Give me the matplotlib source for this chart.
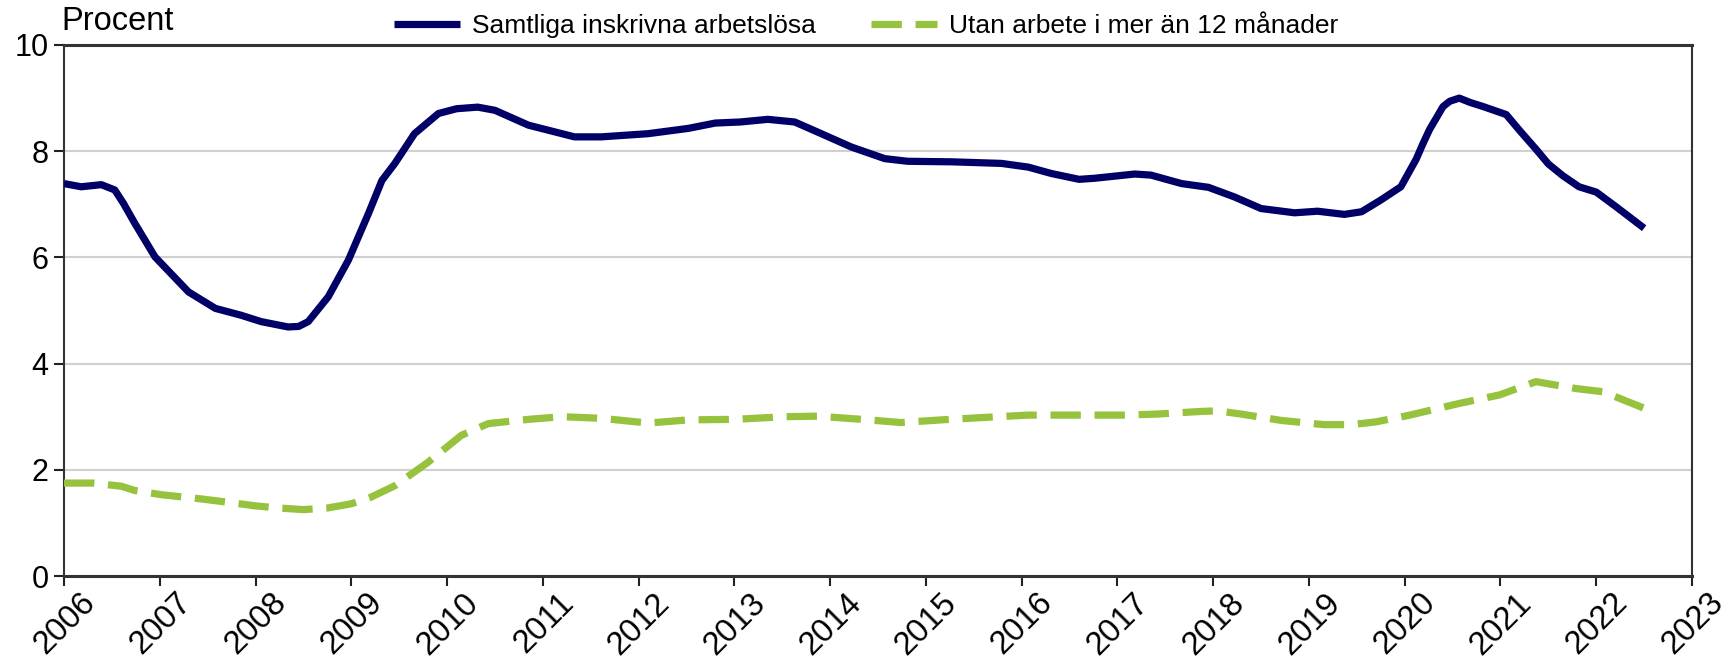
import matplotlib
matplotlib.use("Agg")
import matplotlib.pyplot as plt
from matplotlib.transforms import ScaledTranslation

plt.rcParams['font.family'] = ['Liberation Sans', 'DejaVu Sans']

# Samtliga inskrivna arbetslösa
years_all = [2006.0, 2006.18, 2006.39, 2006.53, 2006.62, 2006.74, 2006.95, 2007.30, 2007.58,
             2007.85, 2008.06, 2008.34, 2008.45, 2008.55, 2008.76, 2008.97, 2009.18, 2009.32,
             2009.455, 2009.66, 2009.91, 2010.1, 2010.32, 2010.5, 2010.85, 2011.33, 2011.61,
             2012.1, 2012.52, 2012.8, 2013.06, 2013.35, 2013.63, 2013.87, 2014.22,
             2014.57, 2014.81, 2015.27, 2015.79, 2016.07, 2016.31, 2016.6, 2016.76,
             2017.18, 2017.35, 2017.67, 2017.95, 2018.22, 2018.5, 2018.85, 2019.09,
             2019.37, 2019.55, 2019.75, 2019.96, 2020.12, 2020.19, 2020.26, 2020.40, 2020.47,
             2020.57, 2020.68, 2020.82, 2021.06, 2021.2, 2021.37, 2021.5, 2021.65, 2021.82,
             2022.0, 2022.21, 2022.5]
vals_all = [7.39, 7.33, 7.37, 7.27, 7.02, 6.64, 6.01, 5.35, 5.04,
            4.91, 4.79, 4.69, 4.70, 4.79, 5.26, 5.95, 6.83, 7.45,
            7.77, 8.33, 8.71, 8.80, 8.83, 8.77, 8.49, 8.27, 8.27,
            8.33, 8.43, 8.53, 8.55, 8.60, 8.55, 8.36, 8.08,
            7.86, 7.81, 7.80, 7.77, 7.70, 7.58, 7.47, 7.49,
            7.57, 7.55, 7.39, 7.32, 7.14, 6.92, 6.84, 6.87,
            6.81, 6.86, 7.08, 7.33, 7.85, 8.14, 8.41, 8.84, 8.94,
            9.00, 8.92, 8.84, 8.69, 8.39, 8.04, 7.76, 7.54, 7.33,
            7.23, 6.95, 6.55]

# Utan arbete i mer än 12 månader
years_long = [2006.0, 2006.3, 2006.6, 2006.74, 2007.02, 2007.44, 2007.75, 2008.0,
              2008.25, 2008.5, 2008.75, 2009.0, 2009.2, 2009.455, 2009.8, 2010.15,
              2010.43, 2010.85, 2011.2, 2011.61, 2012.1, 2012.52, 2013.0, 2013.53,
              2013.87, 2014.33, 2014.74, 2015.16, 2015.65, 2016.07, 2016.6, 2017.07,
              2017.42, 2017.88, 2018.05, 2018.29, 2018.71, 2019.16, 2019.44, 2019.69,
              2020.03, 2020.57, 2020.99, 2021.37, 2021.79, 2022.07, 2022.5]
vals_long = [1.75, 1.75, 1.69, 1.61, 1.53, 1.45, 1.38, 1.32,
             1.28, 1.25, 1.28, 1.36, 1.48, 1.70, 2.14, 2.65,
             2.87, 2.95, 3.00, 2.97, 2.88, 2.94, 2.95, 3.00,
             3.01, 2.95, 2.89, 2.94, 2.99, 3.03, 3.03, 3.03,
             3.05, 3.10, 3.11, 3.05, 2.93, 2.85, 2.85, 2.90,
             3.02, 3.25, 3.41, 3.66, 3.53, 3.47, 3.16]

xticks = list(range(2006, 2024))
yticks = [0, 2, 4, 6, 8, 10]
label_all = "Samtliga inskrivna arbetslösa"
label_long = "Utan arbete i mer än 12 månader"

fig = plt.figure(figsize=(17.32, 6.64), dpi=100)
ax = fig.add_axes([64/1732, 1 - 576/664, (1692-64)/1732, (576-45)/664])

ax.plot(years_all, vals_all, color='#000066', lw=5.2, solid_capstyle='butt',
        solid_joinstyle='round', label=label_all, zorder=3)
ax.plot(years_long, vals_long, color='#96C23D', lw=5.2, dashes=(4.2, 1.9),
        dash_capstyle='butt', label=label_long, zorder=3)

ax.set_xlim(2006, 2023)
ax.set_ylim(0, 10)
ax.set_xticks(xticks)
ax.set_xticklabels([str(t) for t in xticks], rotation=45, ha='right', va='center',
                   rotation_mode='anchor', fontsize=23.5)
ax.set_yticks(yticks)
ax.set_yticklabels([str(t) for t in yticks], fontsize=22)
ax.tick_params(axis='both', direction='out', length=7, width=1.5, color='#222222')
ax.tick_params(axis='x', pad=9)
ax.tick_params(axis='y', pad=4)
offset = ScaledTranslation(19/72, 0, fig.dpi_scale_trans)
for lab in ax.get_xticklabels():
    lab.set_transform(lab.get_transform() + offset)
ax.grid(axis='y', color='#d0d0d0', lw=1.5, zorder=0)
ax.set_axisbelow(True)
for s in ax.spines.values():
    s.set_color('#333333')
    s.set_linewidth(1.5)
ax.spines['bottom'].set_linewidth(2.2)
ax.spines['top'].set_linewidth(2.2)

fig.text(61/1732, 1 - 21/664, 'Procent', fontsize=23.5, ha='left', va='center')
fig.legend(loc='center', bbox_to_anchor=(0.5, 1 - 26/664), ncol=2, frameon=False,
           fontsize=19, handlelength=2.5, columnspacing=2.1, handletextpad=0.45)

fig.savefig('out.png', dpi=100)
